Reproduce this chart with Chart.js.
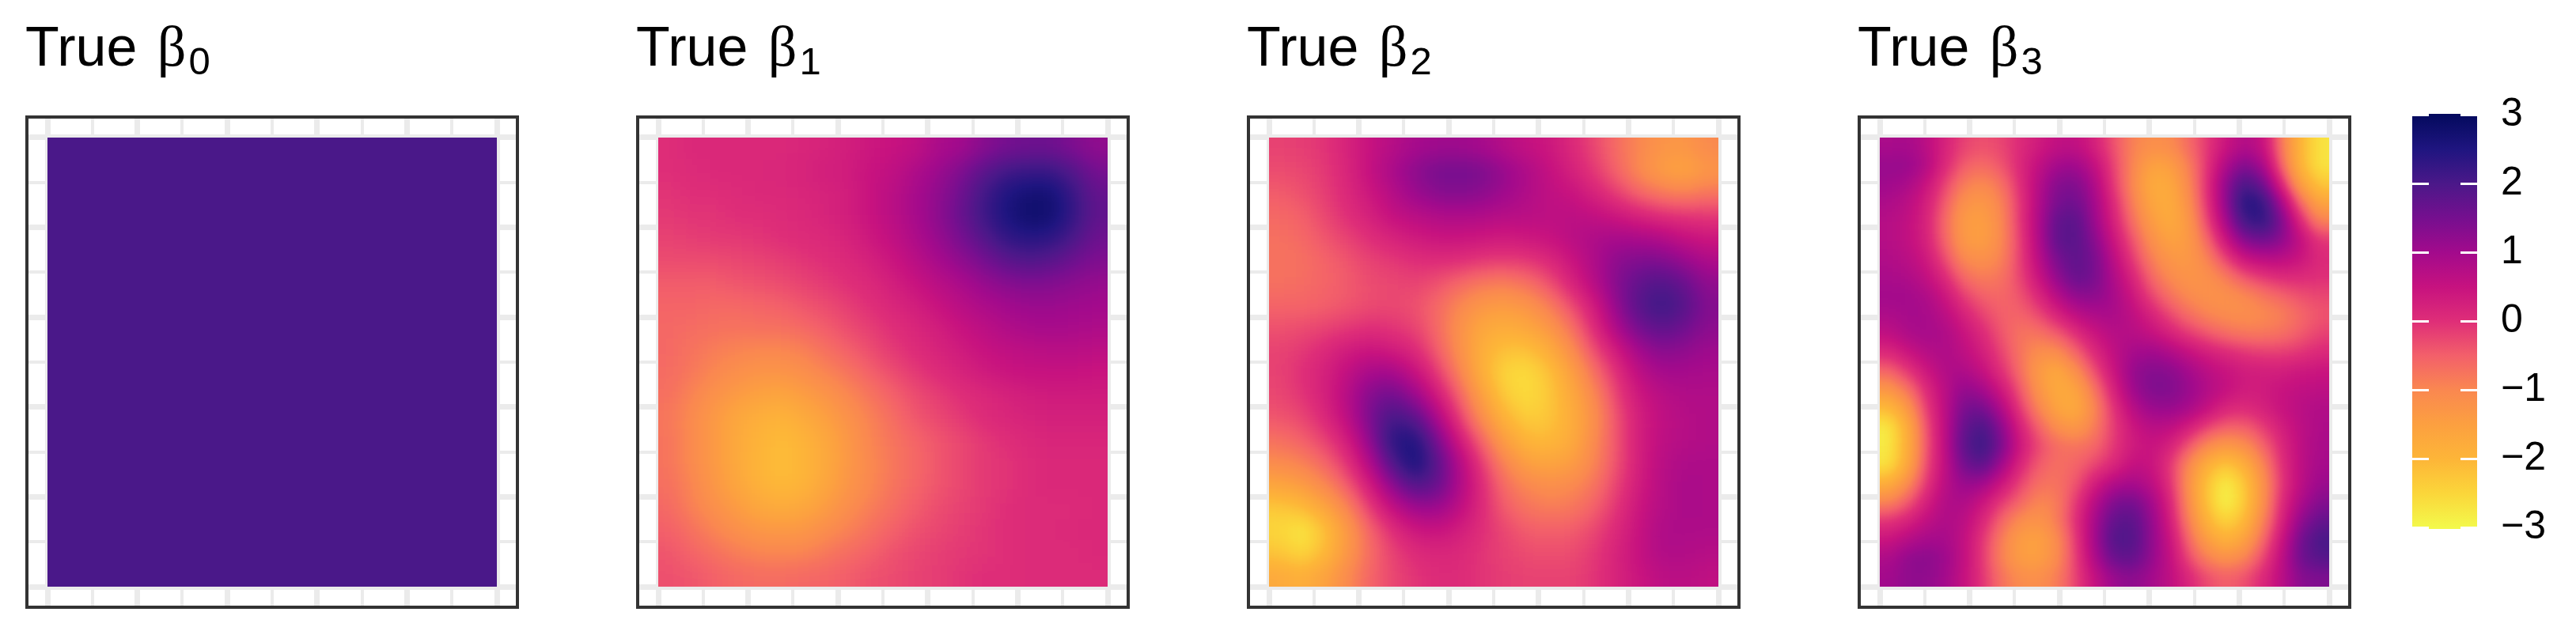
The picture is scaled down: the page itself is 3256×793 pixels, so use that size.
<!DOCTYPE html>
<html>
<head>
<meta charset="utf-8">
<script src="https://cdn.jsdelivr.net/npm/chart.js"></script>
<style>
html,body{margin:0;padding:0;background:#fff;width:3256px;height:793px;overflow:hidden}
canvas{position:absolute;display:block}
.t{position:absolute;top:19px;font:70px/80px "Liberation Sans",Arial,sans-serif;color:#000;white-space:pre}
.t b{font:normal 72px/80px "Liberation Serif",serif;margin-left:6px}
.t i{font:normal 49px/80px "Liberation Sans",Arial,sans-serif;position:relative;top:11px;left:3px}
</style>
</head>
<body>
<div id="root"></div>
<script>
const panelTitles = ["0", "1", "2", "3"];
const legendTicks = [-3, -2, -1, 0, 1, 2, 3];
const legendLabels = ["\u22123", "\u22122", "\u22121", "0", "1", "2", "3"];
const legendRange = [-3.017, 3.017];
const colorValues = [-3, -2.5, -2, -1.5, -1, -0.5, 0, 0.5, 1, 1.5, 2, 2.5, 3];
const colorStops = ["#f3f94b", "#fbd63a", "#fdb538", "#fca040", "#fa8850", "#f3606a", "#df2e78", "#c7127f", "#a30a8c", "#760f8f", "#4b1889", "#1f1580", "#040a5e"];

const beta0 = [
[2,2,2,2],
[2,2,2,2],
[2,2,2,2],
[2,2,2,2]];

const beta1 = [
[0,.1,.1,.1,.1,.1,.15,.2,.3,.4,.5,.6,.9,1.0,1.3,1.5,1.6,1.6,1.4,1.2],
[0,.05,.1,.1,.1,.15,.2,.3,.35,.5,.6,.85,1.1,1.4,1.8,2.1,2.2,2.2,1.9,1.5],
[-.05,0,0,.05,.1,.1,.15,.2,.3,.5,.7,.95,1.2,1.6,2.1,2.5,2.7,2.7,2.2,1.7],
[-.1,-.05,-.05,0,0,.05,.1,.2,.3,.5,.7,.95,1.25,1.65,2.15,2.55,2.8,2.75,2.25,1.75],
[-.2,-.15,-.1,-.1,-.05,0,.05,.1,.2,.4,.6,.85,1.15,1.5,1.9,2.3,2.4,2.35,2.0,1.6],
[-.3,-.3,-.3,-.25,-.2,-.15,-.05,0,.1,.25,.45,.7,.95,1.2,1.5,1.8,1.95,1.85,1.6,1.4],
[-.45,-.45,-.45,-.4,-.35,-.3,-.2,-.1,0,.1,.3,.5,.7,.9,1.15,1.3,1.4,1.35,1.25,1.15],
[-.55,-.55,-.6,-.6,-.55,-.5,-.4,-.3,-.15,0,.15,.3,.5,.7,.85,1.0,1.1,1.1,1.05,1.0],
[-.6,-.65,-.7,-.75,-.7,-.7,-.6,-.45,-.3,-.15,0,.15,.3,.5,.65,.8,.9,.95,.9,.85],
[-.6,-.75,-.85,-.95,-1.0,-1.0,-.9,-.7,-.5,-.3,-.1,.05,.2,.35,.5,.6,.65,.7,.7,.65],
[-.65,-.8,-1.0,-1.15,-1.25,-1.25,-1.15,-.95,-.75,-.5,-.3,-.1,.05,.2,.35,.45,.5,.5,.5,.45],
[-.7,-.95,-1.2,-1.4,-1.55,-1.6,-1.45,-1.25,-1.0,-.75,-.5,-.3,-.15,0,.1,.2,.3,.35,.35,.35],
[-.8,-1.05,-1.35,-1.65,-1.85,-1.95,-1.75,-1.5,-1.2,-.9,-.65,-.4,-.25,-.1,.05,.15,.2,.25,.25,.25],
[-.75,-1.05,-1.35,-1.7,-1.95,-2.1,-1.95,-1.65,-1.3,-.95,-.75,-.55,-.4,-.25,-.1,0,.1,.15,.15,.15],
[-.75,-1.05,-1.35,-1.7,-2.0,-2.15,-2.0,-1.7,-1.3,-1,-.8,-.6,-.4,-.25,-.1,-.05,.05,.1,.1,.1],
[-.7,-.95,-1.3,-1.6,-1.9,-2.05,-1.95,-1.6,-1.25,-1,-.75,-.55,-.4,-.25,-.1,-.05,.05,.1,.1,.1],
[-.6,-.9,-1.15,-1.4,-1.65,-1.75,-1.65,-1.4,-1.1,-.85,-.65,-.45,-.3,-.2,-.1,0,.05,.05,.05,.1],
[-.5,-.7,-.95,-1.15,-1.3,-1.35,-1.3,-1.1,-.9,-.7,-.5,-.35,-.25,-.15,-.05,0,.05,.05,.1,.1],
[-.4,-.55,-.7,-.85,-.95,-1.0,-.95,-.8,-.65,-.5,-.35,-.25,-.15,-.1,-.05,0,.05,.05,.05,.1],
[-.35,-.4,-.5,-.6,-.65,-.65,-.6,-.55,-.45,-.35,-.3,-.2,-.15,-.05,0,0,.05,.05,.05,.05]];

const beta2 = [
[-.2,-.15,-.05,.2,.5,.75,.95,1.05,1.05,.95,.75,.55,.4,.1,-.25,-.65,-1,-1.25,-1.3,-1.05],
[-.3,-.25,-.1,.15,.55,.9,1.25,1.5,1.55,1.45,1.15,.85,.55,.25,-.1,-.55,-1.05,-1.45,-1.6,-1.3],
[-.45,-.35,-.15,.1,.4,.75,1.1,1.3,1.35,1.25,1.05,.8,.6,.5,.2,-.15,-.55,-.8,-.9,-.75],
[-.6,-.5,-.25,0,.25,.55,.7,.8,.85,.8,.75,.7,.65,.65,.6,.4,.2,0,-.05,-.1],
[-.7,-.6,-.4,-.2,0,.2,.35,.45,.45,.4,.35,.4,.5,.7,.85,.95,.9,.8,.55,.4],
[-.75,-.7,-.55,-.4,-.2,-.1,0,.05,0,-.1,-.15,-.1,.1,.45,.85,1.25,1.4,1.4,1.15,.85],
[-.7,-.65,-.55,-.45,-.3,-.25,-.2,-.35,-.6,-.8,-.85,-.7,-.35,.2,.75,1.35,1.75,1.95,1.65,1.2],
[-.55,-.55,-.5,-.4,-.3,-.25,-.35,-.6,-1.0,-1.3,-1.4,-1.25,-.85,-.3,.35,1.2,1.9,2.2,1.9,1.35],
[-.35,-.3,-.2,-.1,0,-.05,-.2,-.6,-1.2,-1.65,-1.8,-1.65,-1.3,-.7,.05,.9,1.55,1.8,1.6,1.25],
[-.2,-.1,.1,.35,.45,.35,.1,-.45,-1.15,-1.85,-2.2,-2.2,-1.8,-1.1,-.3,.35,1.0,1.3,1.2,1.05],
[-.2,0,.25,.6,.95,1.0,.55,-.1,-.9,-1.85,-2.5,-2.6,-2.2,-1.5,-.7,0,.65,.95,.95,.9],
[-.25,-.05,.25,.75,1.35,1.6,1.15,.35,-.5,-1.5,-2.35,-2.6,-2.3,-1.7,-1.0,-.2,.4,.7,.8,.8],
[-.4,-.25,.1,.65,1.45,2.1,1.85,.9,-.15,-1.1,-1.95,-2.4,-2.25,-1.8,-1.15,-.35,.3,.6,.75,.8],
[-.7,-.5,-.2,.3,1.2,2.4,2.55,1.5,.35,-.55,-1.45,-2.0,-2.05,-1.75,-1.05,-.35,.3,.65,.75,.8],
[-1.05,-.9,-.55,-.05,.8,1.95,2.7,1.85,.8,-.15,-.95,-1.5,-1.6,-1.45,-.95,-.35,.3,.7,.85,.85],
[-1.6,-1.4,-1.0,-.45,.3,1.25,1.95,1.7,.85,.05,-.65,-1.0,-1.15,-1.05,-.75,-.2,.35,.75,.9,.85],
[-2.3,-2.1,-1.6,-.95,-.15,.55,1.05,1.1,.65,.05,-.45,-.75,-.85,-.8,-.5,-.05,.45,.75,.9,.85],
[-2.5,-2.8,-2.2,-1.35,-.55,0,.4,.5,.3,0,-.25,-.45,-.5,-.45,-.25,.1,.5,.85,.85,.85],
[-2.25,-2.55,-2.05,-1.3,-.65,-.2,.05,.15,.1,-.05,-.2,-.3,-.35,-.3,-.1,.2,.55,.8,.8,.75],
[-1.7,-1.85,-1.55,-1.05,-.55,-.25,-.05,.05,.05,-.05,-.15,-.2,-.2,-.2,-.05,.2,.45,.65,.7,.6]];

const beta3 = [
[.9,.95,.7,.2,-.2,-.35,-.25,.05,.35,.6,.6,.25,-.35,-.9,-1.15,-1.1,-.65,-.1,.45,.8,.55,-.8,-2.0,-2.7],
[1.15,1.15,.8,.1,-.45,-.65,-.4,.1,.6,1.0,1.05,.6,-.2,-.95,-1.55,-1.5,-.9,-.05,.85,1.4,.95,-.55,-2.0,-2.7],
[1.05,.9,.5,-.2,-.85,-1.05,-.75,0,.75,1.35,1.4,.85,-.1,-1.0,-1.75,-1.7,-1.05,0,1.2,2.05,1.6,.1,-1.5,-2.3],
[.85,.7,.3,-.45,-1.2,-1.35,-.95,-.1,.8,1.5,1.6,1.0,.1,-.85,-1.6,-1.8,-1.2,-.05,1.2,2.5,2.3,.95,-.6,-1.6],
[.75,.6,.2,-.6,-1.4,-1.5,-1.05,-.1,.85,1.75,1.85,1.1,.25,-.65,-1.4,-1.75,-1.35,-.25,.95,2.15,2.35,1.45,.1,-.9],
[.75,.6,.25,-.55,-1.35,-1.5,-1.05,-.2,.8,1.8,1.85,1.3,.45,-.35,-1.15,-1.55,-1.4,-.6,.45,1.35,1.6,1.25,.6,-.05],
[.8,.7,.4,-.3,-1.05,-1.2,-.95,-.2,.7,1.5,1.8,1.5,.7,-.1,-.85,-1.3,-1.35,-.95,-.2,.45,.7,.7,.45,.1],
[.9,.85,.6,.1,-.6,-.85,-.75,-.25,.45,1.2,1.7,1.5,.85,.2,-.55,-1.05,-1.25,-1.2,-.85,-.4,-.1,.05,.05,0],
[1.0,1.0,.85,.45,-.15,-.5,-.6,-.4,.1,.75,1.2,1.25,.95,.45,-.2,-.7,-1.05,-1.2,-1.2,-1.05,-.8,-.55,-.35,-.25],
[.85,.95,.95,.7,.25,-.2,-.5,-.55,-.3,.2,.65,.85,.9,.65,.25,-.25,-.65,-.95,-1.1,-1.15,-1.05,-.9,-.6,-.4],
[.6,.85,.95,.85,.5,.1,-.4,-.75,-.75,-.45,0,.45,.75,.75,.55,.25,-.1,-.4,-.65,-.8,-.8,-.7,-.45,-.2],
[.1,.45,.75,.85,.65,.3,-.2,-.75,-1.15,-1.1,-.55,.1,.6,.95,1.05,.85,.55,.3,.1,-.05,-.15,-.15,-.05,.1],
[-.55,-.1,.4,.8,.85,.55,0,-.65,-1.4,-1.7,-1.15,-.3,.45,1.15,1.35,1.3,1.0,.7,.5,.35,.3,.3,.4,.45],
[-1.3,-.75,.05,.7,1.2,1.0,.4,-.4,-1.25,-1.75,-1.6,-.75,.2,1.05,1.4,1.4,1.15,.8,.55,.35,.35,.5,.6,.65],
[-2.1,-1.35,-.15,.65,1.5,1.55,.85,-.1,-.95,-1.6,-1.75,-1.0,-.05,.7,1.1,1.15,.95,.55,.15,.05,.25,.5,.7,.8],
[-2.8,-1.8,-.35,.65,1.7,2.05,1.3,.25,-.5,-1.15,-1.35,-.85,-.15,.4,.7,.65,.3,-.2,-.5,-.5,-.15,.3,.65,.85],
[-2.8,-1.85,-.4,.65,1.8,2.25,1.5,.4,-.25,-.65,-.75,-.6,-.1,.35,.5,.25,-.4,-1.05,-1.35,-1.15,-.55,.1,.65,.9],
[-2.7,-1.7,-.3,.6,1.55,1.85,1.05,.15,-.45,-.7,-.55,-.25,.1,.55,.5,-.05,-1.0,-1.85,-2.3,-1.85,-.95,0,.65,.95],
[-1.85,-1.1,-.1,.7,1.15,1.05,.45,-.2,-.7,-.75,-.4,.3,.8,.95,.7,0,-1.15,-2.25,-2.85,-2.3,-1.2,-.05,.65,1.1],
[-.95,-.45,.25,.8,.85,.45,-.1,-.55,-1.0,-.85,-.1,.75,1.4,1.55,1.05,.2,-1.05,-2.25,-2.95,-2.35,-1.15,.05,.85,1.35],
[-.05,.2,.6,.85,.7,.15,-.55,-1.1,-1.25,-.85,0,.95,1.75,1.85,1.2,.35,-.85,-1.95,-2.5,-2.05,-.9,.2,1.2,1.7],
[.45,.75,.95,.95,.6,-.05,-.85,-1.45,-1.55,-1.1,-.1,1.0,1.95,1.95,1.25,.5,-.55,-1.45,-1.95,-1.55,-.6,.45,1.55,2.05],
[.85,1.2,1.3,1.1,.6,-.1,-.9,-1.45,-1.5,-1.1,-.15,.85,1.65,1.75,1.2,.6,-.25,-.9,-1.2,-.95,-.25,.65,1.6,1.9],
[1.0,1.2,1.2,1.0,.55,-.05,-.7,-1.1,-1.15,-.85,-.2,.55,1.1,1.25,1.0,.65,.15,-.3,-.5,-.35,.1,.7,1.3,1.4]];

const panelGrids = [beta0, beta1, beta2, beta3];
const panelLefts = [32, 804, 1576, 2348];
const panelTop = 146, panelSize = 624, rasterSize = 568, gridMargin = 24;
const tickValues = [0, .1, .2, .3, .4, .5, .6, .7, .8, .9, 1];
const majorValues = [0, .2, .4, .6, .8, 1];

function hexRGB(h) { return [1, 3, 5].map(i => parseInt(h.substr(i, 2), 16)); }
function colorFor(v) {
  const c = Math.max(-3, Math.min(3, v));
  let i = 0;
  while (i < colorValues.length - 2 && c > colorValues[i + 1]) i++;
  const f = (c - colorValues[i]) / (colorValues[i + 1] - colorValues[i]);
  const a = hexRGB(colorStops[i]), b = hexRGB(colorStops[i + 1]);
  return a.map((x, k) => Math.round(x + (b[k] - x) * f));
}
// value level (0-255) <-> colour: smoothing happens on values, then the palette is applied
const lut = [];
for (let i = 0; i < 256; i++) lut.push(colorFor(-3 + 6 * i / 255));
function levelColor(v) {
  const g = Math.round((Math.max(-3, Math.min(3, v)) + 3) / 6 * 255);
  return `rgb(${g},${g},${g})`;
}

const smoothHeat = {
  id: 'smoothHeat',
  beforeDatasetDraw(chart, args, opts) {
    const xs = chart.scales.x, ys = chart.scales.y;
    const rx = Math.round(xs.getPixelForValue(0)), rw = Math.round(xs.getPixelForValue(1)) - rx;
    const ry = Math.round(ys.getPixelForValue(1)), rh = Math.round(ys.getPixelForValue(0)) - ry;
    const pad = Math.ceil(opts.sigma * 4) + 2;
    const W = rw + 2 * pad, H = rh + 2 * pad;
    const mk = () => { const c = document.createElement('canvas'); c.width = W; c.height = H; return c; };
    const a = mk(), actx = a.getContext('2d');
    actx.translate(pad - rx, pad - ry);
    const area = {left: -1e5, right: 1e5, top: -1e5, bottom: 1e5};
    args.meta.data.forEach(el => el.draw(actx, area));
    actx.setTransform(1, 0, 0, 1, 0, 0);
    // clamp at the raster's edges so the smoothing keeps the outer cells' values
    const b = mk(), bctx = b.getContext('2d');
    bctx.imageSmoothingEnabled = false;
    const sx = [[pad, 1, 0, pad], [pad, rw, pad, rw], [pad + rw - 1, 1, pad + rw, pad]];
    const sy = [[pad, 1, 0, pad], [pad, rh, pad, rh], [pad + rh - 1, 1, pad + rh, pad]];
    sx.forEach(p => sy.forEach(q => bctx.drawImage(a, p[0], q[0], p[1], q[1], p[2], q[2], p[3], q[3])));
    const c = mk(), cctx = c.getContext('2d', {willReadFrequently: true});
    cctx.filter = `blur(${opts.sigma}px)`;
    cctx.drawImage(b, 0, 0);
    cctx.filter = 'none';
    const img = cctx.getImageData(0, 0, W, H), d = img.data;
    for (let i = 0; i < d.length; i += 4) {
      const col = lut[d[i]];
      d[i] = col[0]; d[i + 1] = col[1]; d[i + 2] = col[2]; d[i + 3] = 255;
    }
    cctx.putImageData(img, 0, 0);
    chart.ctx.drawImage(c, pad, pad, rw, rh, rx, ry, rw, rh);
    return false;
  }
};
const panelBorder = {
  id: 'panelBorder',
  afterDraw(chart) {
    const ctx = chart.ctx;
    ctx.save();
    ctx.strokeStyle = '#333333';
    ctx.lineWidth = 4;
    ctx.strokeRect(2, 2, chart.width - 4, chart.height - 4);
    ctx.restore();
  }
};

const root = document.getElementById('root');
function addCanvas(l, t, w, h) {
  const c = document.createElement('canvas');
  c.width = w; c.height = h;
  c.style.cssText = `left:${l}px;top:${t}px;width:${w}px;height:${h}px`;
  root.appendChild(c);
  return c;
}
function axisOptions() {
  const m = gridMargin / rasterSize;
  return {
    type: 'linear', min: -m, max: 1 + m,
    afterBuildTicks(s) { s.ticks = tickValues.map(v => ({value: v})); },
    ticks: {display: false, autoSkip: false},
    border: {display: false},
    grid: {
      drawTicks: false, color: '#ebebeb',
      lineWidth: c => majorValues.some(v => Math.abs(v - c.tick.value) < 1e-6) ? 7 : 4
    }
  };
}

panelGrids.forEach((grid, idx) => {
  const n = grid.length;
  const pts = [], cols = [];
  grid.forEach((row, r) => row.forEach((v, k) => {
    pts.push({x: (k + .5) / n, y: 1 - (r + .5) / n, v});
    cols.push(levelColor(v));
  }));
  const cell = rasterSize / n;
  new Chart(addCanvas(panelLefts[idx], panelTop, panelSize, panelSize), {
    type: 'scatter',
    data: {datasets: [{
      label: 'True beta ' + panelTitles[idx],
      data: pts,
      pointStyle: 'rect',
      pointRadius: (cell + 1) / Math.SQRT2,
      pointBorderWidth: 0,
      pointBackgroundColor: cols
    }]},
    options: {
      responsive: false, animation: false, events: [],
      layout: {padding: 4, autoPadding: false},
      scales: {x: axisOptions(), y: axisOptions()},
      plugins: {
        legend: {display: false}, tooltip: {enabled: false},
        smoothHeat: {sigma: cell * 0.46}
      }
    },
    plugins: [smoothHeat, panelBorder]
  });
  const t = document.createElement('div');
  t.className = 't';
  t.style.left = panelLefts[idx] + 'px';
  t.innerHTML = `True <b>\u03b2</b><i>${panelTitles[idx]}</i>`;
  root.appendChild(t);
});

// colour bar
new Chart(addCanvas(3049, 110, 207, 600), {
  type: 'bar',
  data: {labels: ['beta'], datasets: [{
    data: [legendRange],
    barPercentage: 1, categoryPercentage: 1, borderWidth: 0,
    backgroundColor(c) {
      const ch = c.chart;
      if (!ch.chartArea) return '#000';
      const y = ch.scales.y;
      const g = ch.ctx.createLinearGradient(0, y.getPixelForValue(3), 0, y.getPixelForValue(-3));
      colorValues.forEach((v, i) => g.addColorStop(1 - (v + 3) / 6, colorStops[i]));
      return g;
    }
  }]},
  options: {
    responsive: false, animation: false, events: [],
    layout: {padding: {top: 34, bottom: 41, left: 0, right: 0}, autoPadding: false},
    scales: {
      x: {display: false},
      y: {
        position: 'right', min: legendRange[0], max: legendRange[1],
        afterBuildTicks(s) { s.ticks = legendTicks.map(v => ({value: v})); },
        afterFit(s) { s.width = 125; s.paddingTop = 0; s.paddingBottom = 0; },
        ticks: {
          autoSkip: false, padding: 30, color: '#000',
          font: {family: '"Liberation Sans", Arial, sans-serif', size: 50},
          callback: v => legendLabels[legendTicks.indexOf(v)]
        },
        border: {display: false, dash: [21, 40, 21, 0]},
        grid: {drawTicks: false, color: '#ffffff', lineWidth: 3, z: 1}
      }
    },
    plugins: {legend: {display: false}, tooltip: {enabled: false}}
  }
});
</script>
</body>
</html>
